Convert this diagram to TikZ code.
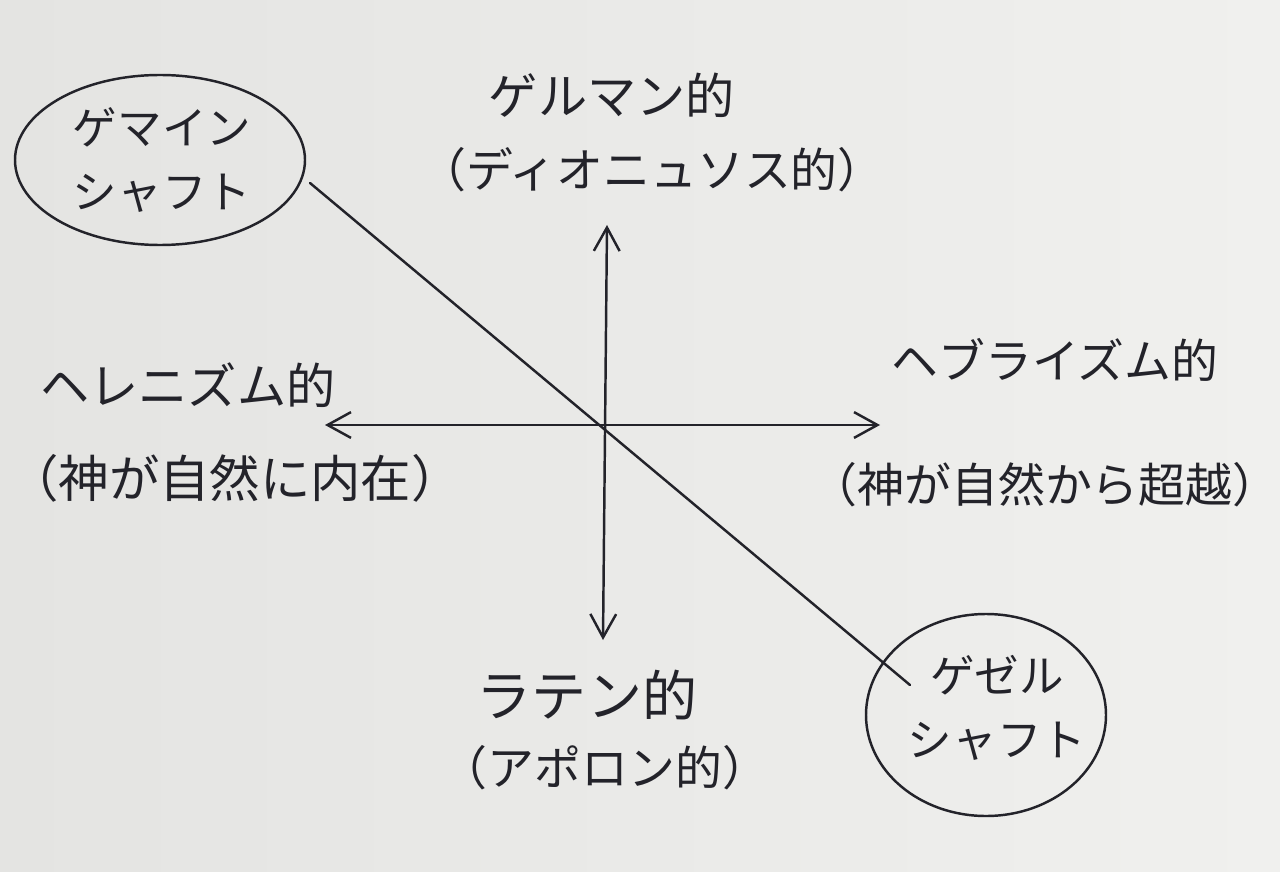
\documentclass[tikz,border=0pt]{standalone}
\usepackage{fontspec}
\newfontfamily\jp{Noto Sans CJK JP}
\usetikzlibrary{arrows.meta,shapes.geometric}
\definecolor{paperA}{RGB}{228,228,226}
\definecolor{paperB}{RGB}{240,240,238}
\definecolor{inkc}{RGB}{35,35,42}
\begin{document}
\begin{tikzpicture}[x=0.03cm,y=-0.03cm,
  ink/.style={draw=inkc, line width=2.1pt, line cap=round},
  dblarrow/.style={ink, {Straight Barb[length=20pt,width=22pt,line width=2.1pt]}-{Straight Barb[length=20pt,width=22pt,line width=2.1pt]}},
  lbl/.style={font=\jp\fontsize{40}{46}\selectfont, text=inkc, inner sep=0pt, anchor=center},
  big/.style={lbl, font=\jp\fontsize{42}{48}\selectfont},
  circ/.style={ellipse, ink, inner sep=0pt},
  ctext/.style={font=\jp\fontsize{38}{54}\selectfont, text=inkc, align=center, inner sep=0pt}]
\shade[left color=paperA, right color=paperB] (0,0) rectangle (1280,872);
\useasboundingbox (0,0) rectangle (1280,872);

% axes
\coordinate (top) at (607,225);
\coordinate (bot) at (603,640);
\coordinate (lft) at (325,425);
\coordinate (rgt) at (880,425);
\draw[dblarrow] (bot) -- (top);
\draw[dblarrow] (lft) -- (rgt);

% labels
\node[big] (g1) at (612,95) {ゲルマン的};
\node[lbl] (g2) at (652,170) {（ディオニュソス的）};
\node[big] (h1) at (188,385) {ヘレニズム的};
\node[lbl, font=\jp\fontsize{43}{48}\selectfont] (h2) at (235,478) {（神が自然に内在）};
\node[lbl] (b1) at (1055,360) {ヘブライズム的};
\node[lbl] (b2) at (1045,485) {（神が自然から超越）};
\node[big, font=\jp\fontsize{47}{52}\selectfont] (l1) at (587,695) {ラテン的};
\node[lbl] (l2) at (605,768) {（アポロン的）};

% circles
\node[circ, minimum width=290*0.03cm, minimum height=170*0.03cm] (gem) at (160,160) {};
\node[ctext] (gemt) at (162,160) {ゲマイン\\シャフト};
\node[circ, minimum width=240*0.03cm, minimum height=202*0.03cm] (ges) at (986,715) {};
\node[ctext] (gest) at (997,708) {ゲゼル\\シャフト};

% diagonal
\coordinate (d1) at (310,183);
\coordinate (d2) at (910,685);
\draw[ink] (d1) -- (d2);
\end{tikzpicture}
\end{document}
